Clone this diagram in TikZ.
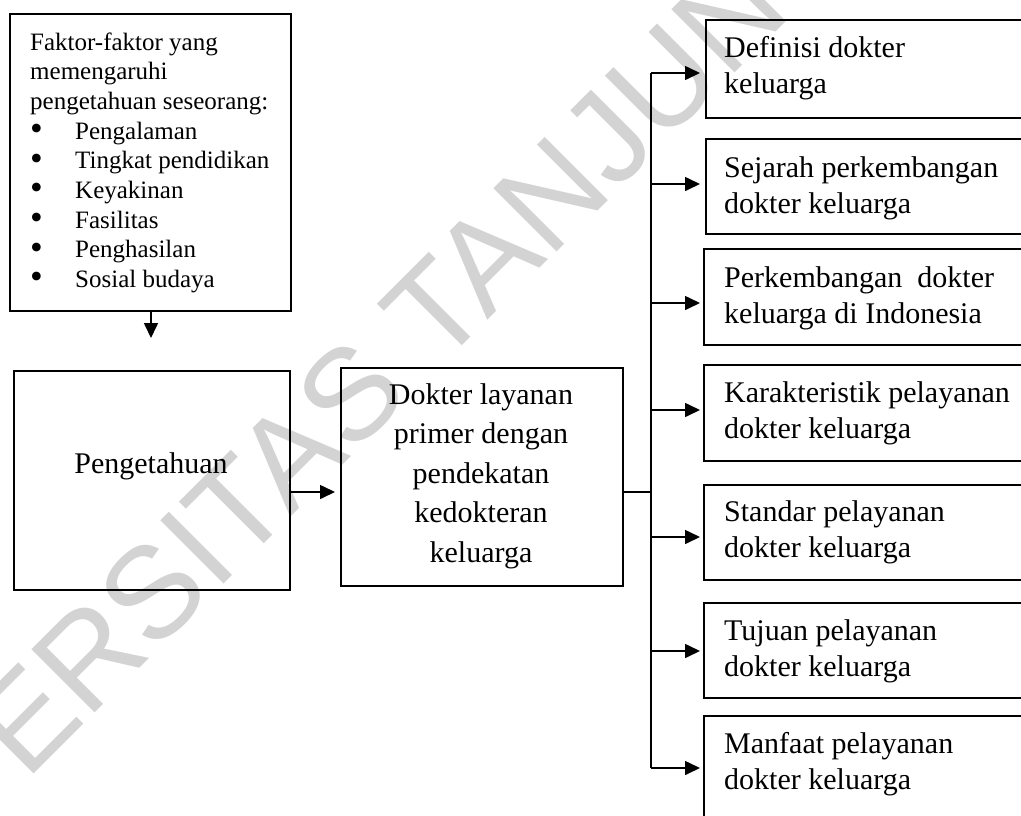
\documentclass[tikz,border=0pt]{standalone}
\usepackage{fontspec}
\setmainfont{Liberation Serif}
\newfontfamily\wmfont{Liberation Sans}
\usetikzlibrary{arrows.meta}
\definecolor{wmgray}{RGB}{211,211,211}
\newcommand{\bigbul}{\raisebox{-1.2pt}{\scalebox{1.45}{\textbullet}}}
\begin{document}
\begin{tikzpicture}[x=1pt,y=-1pt,
  box/.style={draw, line width=1.6pt, inner sep=0pt, anchor=north west},
  arr/.style={line width=1.6pt, -{Triangle[length=15pt,width=14pt]}},
  rtxt/.style={inner sep=0pt, anchor=base west, font=\fontsize{30}{36}\selectfont},
  wmark/.style={inner sep=0pt, anchor=base west, rotate=45, text=wmgray, font=\wmfont\fontsize{130}{130}\selectfont}]
\useasboundingbox (0,0) rectangle (1021,815);
\clip (0,0) rectangle (1021,815);
\fill[white] (0,0) rectangle (1021,815);
% watermark
\node[wmark] (wm) at (-193.5,1001.5) {UNIVERSITAS TANJUNGPURA};
% left boxes
\node[box, minimum width=281pt, minimum height=297pt] (fak) at (9,13) {};
\node[box, minimum width=276pt, minimum height=219pt] (peng) at (13,370) {};
\node[box, minimum width=282pt, minimum height=218pt] (dok) at (340,367) {};
% right boxes
\node[box, minimum width=340pt, minimum height=98pt] (b1) at (705,19) {};
\node[box, minimum width=340pt, minimum height=95pt] (b2) at (705,138) {};
\node[box, minimum width=340pt, minimum height=96pt] (b3) at (703,248) {};
\node[box, minimum width=340pt, minimum height=96pt] (b4) at (703,364) {};
\node[box, minimum width=340pt, minimum height=95pt] (b5) at (703,484) {};
\node[box, minimum width=340pt, minimum height=95pt] (b6) at (703,602) {};
\node[box, minimum width=340pt, minimum height=120pt] (b7) at (703,715) {};
% texts
\node[inner sep=0pt, anchor=base west, font=\fontsize{25}{29.7}\selectfont] (faktxt) at (30,50)
  {\begin{tabular}[t]{@{}p{45pt}@{}l@{}}
   \multicolumn{2}{@{}l@{}}{Faktor-faktor yang}\\
   \multicolumn{2}{@{}l@{}}{memengaruhi}\\
   \multicolumn{2}{@{}l@{}}{pengetahuan seseorang:}\\
   \bigbul & Pengalaman\\
   \bigbul & Tingkat pendidikan\\
   \bigbul & Keyakinan\\
   \bigbul & Fasilitas\\
   \bigbul & Penghasilan\\
   \bigbul & Sosial budaya
  \end{tabular}};
\node[inner sep=0pt, anchor=base, font=\fontsize{30}{36}\selectfont] (pengtxt) at (151,473) {Pengetahuan};
\node[inner sep=0pt, anchor=base, font=\fontsize{30}{39.5}\selectfont] (doktxt) at (481,404)
  {\begin{tabular}[t]{@{}c@{}}Dokter layanan\\ primer dengan\\ pendekatan\\ kedokteran\\ keluarga\end{tabular}};
\node[rtxt] (t1) at (724,57) {\begin{tabular}[t]{@{}l@{}}Definisi dokter\\ keluarga\end{tabular}};
\node[rtxt] (t2) at (724,177) {\begin{tabular}[t]{@{}l@{}}Sejarah perkembangan\\ dokter keluarga\end{tabular}};
\node[rtxt] (t3) at (724,287) {\begin{tabular}[t]{@{}l@{}}Perkembangan\ \ dokter\\ keluarga di Indonesia\end{tabular}};
\node[rtxt] (t4) at (724,402) {\begin{tabular}[t]{@{}l@{}}Karakteristik pelayanan\\ dokter keluarga\end{tabular}};
\node[rtxt] (t5) at (724,521) {\begin{tabular}[t]{@{}l@{}}Standar pelayanan\\ dokter keluarga\end{tabular}};
\node[rtxt] (t6) at (724,640) {\begin{tabular}[t]{@{}l@{}}Tujuan pelayanan\\ dokter keluarga\end{tabular}};
\node[rtxt] (t7) at (724,753) {\begin{tabular}[t]{@{}l@{}}Manfaat pelayanan\\ dokter keluarga\end{tabular}};
% connectors
\coordinate (ftip) at (151,338);
\draw[arr] (fak.south -| ftip) -- (ftip);
\coordinate (j) at (651,492);
\draw[arr, shorten >=5pt] (peng.east |- j) -- (dok.west |- j);
\draw[line width=1.2pt] (dok.east |- j) -- (j);
\coordinate (k1) at (651,73);
\coordinate (k2) at (651,184);
\coordinate (k3) at (651,303);
\coordinate (k4) at (651,410);
\coordinate (k5) at (651,537);
\coordinate (k6) at (651,651);
\coordinate (k7) at (651,768);
\draw[line width=1.6pt] (k1) -- (k7);
\draw[arr, shorten >=5pt] (k1) -- (k1 -| b1.west);
\draw[arr, shorten >=5pt] (k2) -- (k2 -| b2.west);
\draw[arr, shorten >=3pt] (k3) -- (k3 -| b3.west);
\draw[arr, shorten >=3pt] (k4) -- (k4 -| b4.west);
\draw[arr, shorten >=3pt] (k5) -- (k5 -| b5.west);
\draw[arr, shorten >=3pt] (k6) -- (k6 -| b6.west);
\draw[arr, shorten >=3pt] (k7) -- (k7 -| b7.west);
\end{tikzpicture}
\end{document}
